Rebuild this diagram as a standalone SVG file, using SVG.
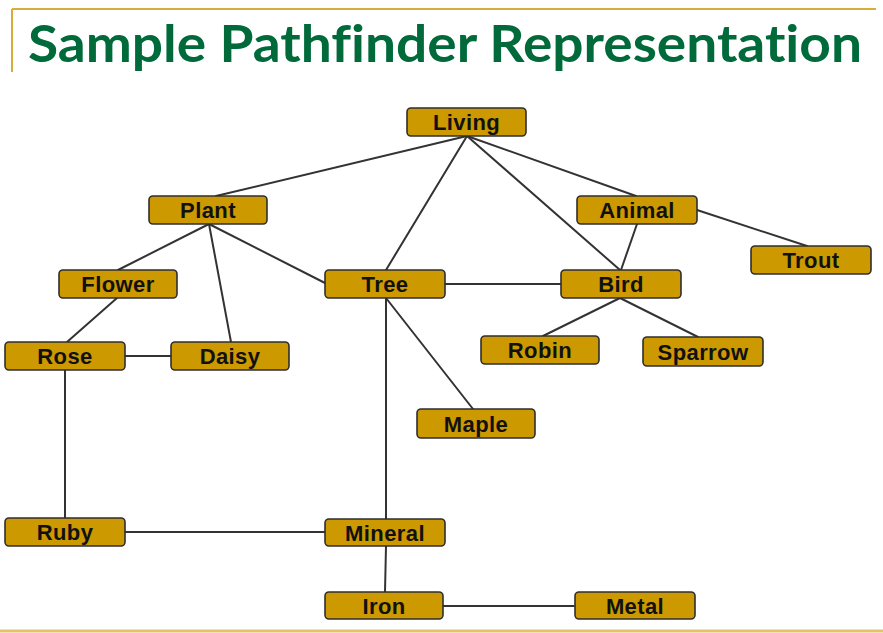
<svg xmlns="http://www.w3.org/2000/svg" width="883" height="633" viewBox="0 0 883 633">
  <style>
    .frame { stroke: #d9ad3c; stroke-width: 2; fill: none; }
    .rule { stroke: #e3c368; stroke-width: 3; fill: none; }
    .title { font-family: Lato, "Open Sans", sans-serif; font-weight: bold; font-size: 52px; fill: #006a3b; font-variant-ligatures: none; }
    .node rect { fill: #cc9900; stroke: #2e2e2e; stroke-width: 1.6; }
    .node text { font-family: "Liberation Sans", Arial, sans-serif; font-weight: bold; font-size: 22px; fill: #111; text-anchor: middle; letter-spacing: 0.4px; }
    #edges line { stroke: #333; stroke-width: 2; stroke-linecap: round; }
  </style>

  <!-- page frame -->
  <line class="frame" x1="12" y1="9" x2="876" y2="9"/>
  <line class="frame" x1="12" y1="9" x2="12" y2="72"/>
  <line class="rule" x1="0" y1="631" x2="883" y2="631"/>

  <text class="title" x="28" y="62" textLength="834" lengthAdjust="spacingAndGlyphs">Sample Pathfinder Representation</text>

  <g id="edges">
    <line x1="467" y1="136" x2="216" y2="196"/>
    <line x1="467" y1="136" x2="386" y2="270"/>
    <line x1="467" y1="136" x2="620" y2="270"/>
    <line x1="467" y1="136" x2="636" y2="196"/>
    <line x1="637" y1="224" x2="621" y2="270"/>
    <line x1="697" y1="210" x2="807" y2="246"/>
    <line x1="209" y1="224" x2="118" y2="270"/>
    <line x1="209" y1="224" x2="231" y2="342"/>
    <line x1="209" y1="224" x2="325" y2="283"/>
    <line x1="117" y1="298" x2="67" y2="342"/>
    <line x1="125" y1="356" x2="171" y2="356"/>
    <line x1="65" y1="370" x2="65" y2="518"/>
    <line x1="125" y1="532" x2="325" y2="532"/>
    <line x1="386" y1="298" x2="386" y2="520"/>
    <line x1="386" y1="298" x2="473" y2="409"/>
    <line x1="445" y1="284" x2="561" y2="284"/>
    <line x1="620" y1="298" x2="543" y2="336"/>
    <line x1="620" y1="298" x2="698" y2="337"/>
    <line x1="386" y1="546" x2="385" y2="592"/>
    <line x1="443" y1="606" x2="574" y2="606"/>
  </g>

  <g id="living" class="node"><rect x="407" y="108" width="119" height="28" rx="4"/><text x="466.5" y="130">Living</text></g>
  <g id="plant" class="node"><rect x="149" y="196" width="118" height="28" rx="4"/><text x="208" y="218">Plant</text></g>
  <g id="animal" class="node"><rect x="577" y="196" width="120" height="28" rx="4"/><text x="637" y="218">Animal</text></g>
  <g id="trout" class="node"><rect x="751" y="246" width="120" height="28" rx="4"/><text x="811" y="268">Trout</text></g>
  <g id="flower" class="node"><rect x="59" y="270" width="118" height="28" rx="4"/><text x="118" y="292">Flower</text></g>
  <g id="tree" class="node"><rect x="325" y="270" width="120" height="28" rx="4"/><text x="385" y="292">Tree</text></g>
  <g id="bird" class="node"><rect x="561" y="270" width="120" height="28" rx="4"/><text x="621" y="292">Bird</text></g>
  <g id="rose" class="node"><rect x="5" y="342" width="120" height="28" rx="4"/><text x="65" y="364">Rose</text></g>
  <g id="daisy" class="node"><rect x="171" y="342" width="118" height="28" rx="4"/><text x="230" y="364">Daisy</text></g>
  <g id="robin" class="node"><rect x="481" y="336" width="118" height="28" rx="4"/><text x="540" y="358">Robin</text></g>
  <g id="sparrow" class="node"><rect x="643" y="337" width="120" height="29" rx="4"/><text x="703" y="360">Sparrow</text></g>
  <g id="maple" class="node"><rect x="417" y="409" width="118" height="29" rx="4"/><text x="476" y="432">Maple</text></g>
  <g id="ruby" class="node"><rect x="5" y="518" width="120" height="28" rx="4"/><text x="65" y="540">Ruby</text></g>
  <g id="mineral" class="node"><rect x="325" y="519" width="120" height="27" rx="4"/><text x="385" y="541">Mineral</text></g>
  <g id="iron" class="node"><rect x="325" y="592" width="118" height="27" rx="4"/><text x="384" y="614">Iron</text></g>
  <g id="metal" class="node"><rect x="575" y="592" width="120" height="27" rx="4"/><text x="635" y="614">Metal</text></g>
</svg>
